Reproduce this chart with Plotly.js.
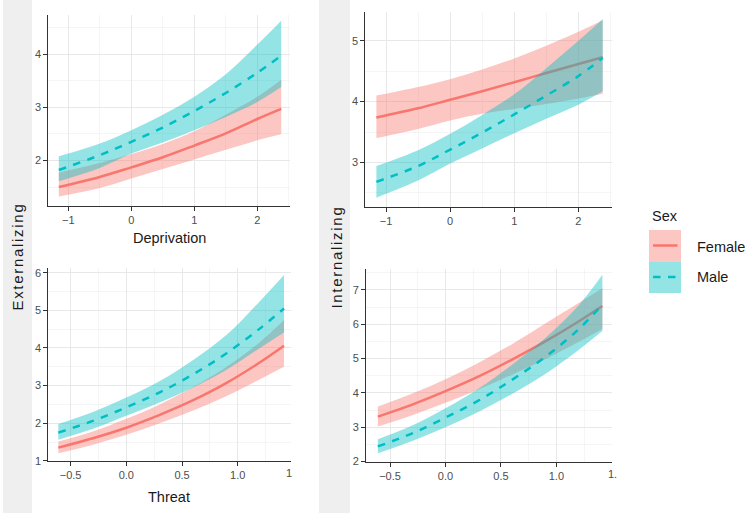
<!DOCTYPE html>
<html>
<head>
<meta charset="utf-8">
<script src="https://cdn.plot.ly/plotly-3.0.1.min.js"></script>
<style>
html,body{margin:0;padding:0;background:#fff;}
#chart{width:745px;height:513px;}
.annotation[data-index="0"] text, .annotation[data-index="1"] text{letter-spacing:1.7px;}
</style>
</head>
<body>
<div id="chart"></div>
<script>
// ---- Data ----
const sexLevels = ["Female", "Male"];
const panelYTitles = ["Externalizing", "Internalizing"];
const panelXTitles = ["Deprivation", "Threat"];

// Deprivation grid
const depX = [-1.15, -0.5, 0, 0.5, 1, 1.5, 2, 2.38];
// Externalizing ~ Deprivation
const extDepF   = [1.50, 1.69, 1.87, 2.06, 2.28, 2.51, 2.78, 2.97];
const extDepFlo = [1.32, 1.48, 1.66, 1.84, 2.02, 2.20, 2.38, 2.50];
const extDepFhi = [1.77, 1.95, 2.12, 2.31, 2.55, 2.86, 3.20, 3.52];
const extDepM   = [1.82, 2.10, 2.35, 2.62, 2.93, 3.27, 3.65, 3.97];
const extDepMlo = [1.61, 1.86, 2.13, 2.34, 2.57, 2.82, 3.10, 3.38];
const extDepMhi = [2.08, 2.32, 2.57, 2.86, 3.20, 3.62, 4.18, 4.63];
// Internalizing ~ Deprivation
const intDepF   = [3.74, 3.89, 4.03, 4.17, 4.32, 4.47, 4.62, 4.73];
const intDepFlo = [3.40, 3.55, 3.69, 3.80, 3.88, 3.96, 4.05, 4.13];
const intDepFhi = [4.10, 4.24, 4.37, 4.53, 4.71, 4.92, 5.15, 5.34];
const intDepM   = [2.68, 2.94, 3.21, 3.49, 3.79, 4.10, 4.42, 4.72];
const intDepMlo = [2.42, 2.70, 2.98, 3.23, 3.48, 3.72, 3.95, 4.17];
const intDepMhi = [2.94, 3.20, 3.47, 3.78, 4.12, 4.55, 5.00, 5.36];

// Threat grid
const thrX = [-0.61, -0.3, 0, 0.3, 0.6, 0.9, 1.2, 1.415];
// Externalizing ~ Threat
const extThrF   = [1.35, 1.60, 1.88, 2.22, 2.61, 3.07, 3.62, 4.06];
const extThrFlo = [1.20, 1.43, 1.69, 2.00, 2.34, 2.72, 3.17, 3.50];
const extThrFhi = [1.51, 1.78, 2.12, 2.50, 2.96, 3.50, 4.16, 4.74];
const extThrM   = [1.75, 2.06, 2.42, 2.82, 3.30, 3.86, 4.52, 5.05];
const extThrMlo = [1.56, 1.85, 2.20, 2.55, 2.95, 3.42, 4.00, 4.41];
const extThrMhi = [1.98, 2.30, 2.68, 3.12, 3.68, 4.35, 5.25, 5.94];
// Internalizing ~ Threat
const intThrF   = [3.31, 3.66, 4.05, 4.48, 4.97, 5.50, 6.08, 6.53];
const intThrFlo = [3.02, 3.35, 3.71, 4.10, 4.53, 4.98, 5.48, 5.86];
const intThrFhi = [3.60, 3.98, 4.40, 4.88, 5.42, 6.02, 6.62, 7.05];
const intThrM   = [2.44, 2.82, 3.28, 3.78, 4.38, 5.05, 5.85, 6.58];
const intThrMlo = [2.24, 2.60, 3.00, 3.45, 3.97, 4.55, 5.25, 5.80];
const intThrMhi = [2.65, 3.05, 3.55, 4.13, 4.82, 5.60, 6.55, 7.44];

// ---- Styling ----
const W = 745, H = 513;
const FEMALE = '#F8766D', MALE = '#00BFC4';
const FEMALE_FILL = 'rgba(248,118,109,0.42)', MALE_FILL = 'rgba(0,191,196,0.42)';
const DASH = '7.5px,7.5px';
const FONT = '"Liberation Sans", Arial, sans-serif';
const TICKSIZE = 11;
const px = v => v / W, py = v => 1 - v / H;

const traces = [];
function addPanel(xs, F, Flo, Fhi, M, Mlo, Mhi, xa, ya) {
  const base = {x: xs, xaxis: xa, yaxis: ya, mode: 'lines', hoverinfo: 'skip', showlegend: false};
  traces.push(Object.assign({}, base, {y: Flo, line: {width: 0, shape: 'spline'}}));
  traces.push(Object.assign({}, base, {y: Fhi, line: {width: 0, shape: 'spline'}, fill: 'tonexty', fillcolor: FEMALE_FILL}));
  traces.push(Object.assign({}, base, {y: F, name: sexLevels[0], line: {color: FEMALE, width: 2.5, shape: 'spline'}}));
  traces.push(Object.assign({}, base, {y: Mlo, line: {width: 0, shape: 'spline'}}));
  traces.push(Object.assign({}, base, {y: Mhi, line: {width: 0, shape: 'spline'}, fill: 'tonexty', fillcolor: MALE_FILL}));
  traces.push(Object.assign({}, base, {y: M, name: sexLevels[1], line: {color: MALE, width: 2.5, shape: 'spline', dash: DASH}}));
}
addPanel(depX, extDepF, extDepFlo, extDepFhi, extDepM, extDepMlo, extDepMhi, 'x', 'y');
addPanel(depX, intDepF, intDepFlo, intDepFhi, intDepM, intDepMlo, intDepMhi, 'x2', 'y2');
addPanel(thrX, extThrF, extThrFlo, extThrFhi, extThrM, extThrMlo, extThrMhi, 'x3', 'y3');
addPanel(thrX, intThrF, intThrFlo, intThrFhi, intThrM, intThrMlo, intThrMhi, 'x4', 'y4');

function minor(d) { return {showgrid: true, gridcolor: '#f2f2f2', gridwidth: 0.8, dtick: d, tick0: 0}; }
function axis(extra) {
  return Object.assign({
    showline: true, linecolor: '#333333', linewidth: 1,
    ticks: 'outside', ticklen: 4, tickwidth: 1, tickcolor: '#333333',
    showgrid: true, gridcolor: '#e8e8e8', gridwidth: 1,
    zeroline: false, fixedrange: true,
    tickfont: {family: FONT, size: TICKSIZE, color: '#4d4d4d'}
  }, extra);
}

const layout = {
  width: W, height: H,
  margin: {l: 0, r: 0, t: 0, b: 0},
  paper_bgcolor: '#ffffff', plot_bgcolor: '#ffffff',
  showlegend: false,
  font: {family: FONT},
  xaxis:  axis({domain: [px(48.3), px(290)],  range: [-1.317, 2.519], anchor: 'y',  dtick: 1, tick0: 0, minor: minor(0.5)}),
  yaxis:  axis({domain: [py(206), py(15)],    range: [1.143, 4.737], anchor: 'x',  dtick: 1, tick0: 0, minor: minor(0.5)}),
  xaxis2: axis({domain: [px(365.3), px(611.7)], range: [-1.323, 2.52], anchor: 'y2', dtick: 1, tick0: 0, minor: minor(0.5)}),
  yaxis2: axis({domain: [py(206.5), py(11.7)], range: [2.274, 5.48], anchor: 'x2', dtick: 1, tick0: 0, minor: minor(0.5)}),
  xaxis3: axis({domain: [px(48.3), px(290.7)], range: [-0.70, 1.475], anchor: 'y3', dtick: 0.5, tick0: 0, tickformat: '.1f', minor: minor(0.25)}),
  yaxis3: axis({domain: [py(461), py(268.3)], range: [0.995, 6.117], anchor: 'x3', dtick: 1, tick0: 0, minor: minor(0.5)}),
  xaxis4: axis({domain: [px(366), px(611.7)], range: [-0.717, 1.499], anchor: 'y4', dtick: 0.5, tick0: 0, tickformat: '.1f', minor: minor(0.25)}),
  yaxis4: axis({domain: [py(461.7), py(269)], range: [1.995, 7.61], anchor: 'x4', dtick: 1, tick0: 0, minor: minor(0.5)}),
  shapes: [
    {type: 'rect', xref: 'paper', yref: 'paper', x0: px(3), x1: px(32), y0: 0, y1: 1, fillcolor: '#efefef', line: {width: 0}, layer: 'below'},
    {type: 'rect', xref: 'paper', yref: 'paper', x0: px(319), x1: px(350), y0: 0, y1: 1, fillcolor: '#efefef', line: {width: 0}, layer: 'below'},
    // legend keys
    {type: 'rect', xref: 'paper', yref: 'paper', x0: px(649), x1: px(681), y0: py(261.5), y1: py(230), fillcolor: FEMALE_FILL, line: {width: 0}},
    {type: 'rect', xref: 'paper', yref: 'paper', x0: px(649), x1: px(681), y0: py(293), y1: py(261.5), fillcolor: MALE_FILL, line: {width: 0}},
    {type: 'line', xref: 'paper', yref: 'paper', x0: px(653), x1: px(677.5), y0: py(245.5), y1: py(245.5), line: {color: FEMALE, width: 2.5}},
    {type: 'line', xref: 'paper', yref: 'paper', x0: px(653), x1: px(676.5), y0: py(277), y1: py(277), line: {color: MALE, width: 2.5, dash: DASH}}
  ],
  annotations: [
    {text: panelYTitles[0], xref: 'paper', yref: 'paper', x: px(17), y: py(256.5), textangle: -90, showarrow: false, xanchor: 'center', yanchor: 'middle', font: {family: FONT, size: 15, color: '#1a1a1a'}},
    {text: panelYTitles[1], xref: 'paper', yref: 'paper', x: px(335.5), y: py(257), textangle: -90, showarrow: false, xanchor: 'center', yanchor: 'middle', font: {family: FONT, size: 15, color: '#1a1a1a'}},
    {text: panelXTitles[0], xref: 'paper', yref: 'paper', x: px(169), y: py(237.7), showarrow: false, xanchor: 'center', yanchor: 'middle', font: {family: FONT, size: 14.5, color: '#1a1a1a'}},
    {text: panelXTitles[1], xref: 'paper', yref: 'paper', x: px(169), y: py(496.7), showarrow: false, xanchor: 'center', yanchor: 'middle', font: {family: FONT, size: 14.5, color: '#1a1a1a'}},
    {text: 'Sex', xref: 'paper', yref: 'paper', x: px(650), y: py(216), showarrow: false, xanchor: 'left', yanchor: 'middle', font: {family: FONT, size: 14.5, color: '#1a1a1a'}},
    {text: sexLevels[0], xref: 'paper', yref: 'paper', x: px(695), y: py(246.5), showarrow: false, xanchor: 'left', yanchor: 'middle', font: {family: FONT, size: 14.5, color: '#1a1a1a'}},
    {text: sexLevels[1], xref: 'paper', yref: 'paper', x: px(695), y: py(277), showarrow: false, xanchor: 'left', yanchor: 'middle', font: {family: FONT, size: 14.5, color: '#1a1a1a'}},
    {text: '1', xref: 'paper', yref: 'paper', x: px(284), y: py(473), showarrow: false, xanchor: 'left', yanchor: 'middle', font: {family: FONT, size: TICKSIZE, color: '#4d4d4d'}},
    {text: '1.', xref: 'paper', yref: 'paper', x: px(606), y: py(473.5), showarrow: false, xanchor: 'left', yanchor: 'middle', font: {family: FONT, size: TICKSIZE, color: '#4d4d4d'}}
  ]
};

Plotly.newPlot('chart', traces, layout, {displayModeBar: false, staticPlot: true});
</script>
</body>
</html>
